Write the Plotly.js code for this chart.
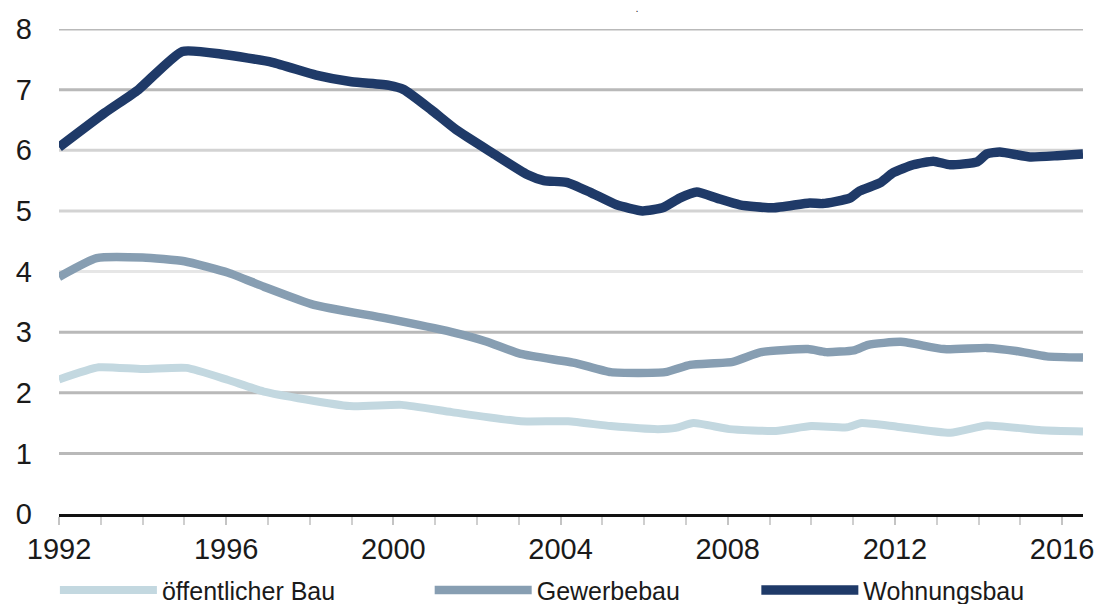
<!DOCTYPE html>
<html>
<head>
<meta charset="utf-8">
<script src="https://cdn.plot.ly/plotly-3.0.1.min.js"></script>
<style>html,body{margin:0;padding:0;background:#fff}#chart{width:1102px;height:604px}</style>
</head>
<body>
<div id="chart"></div>
<script>
// Wohnungsbau
const wohnX = [1992.0,1993.1,1993.9,1994.95,1995.95,1997.1,1998.15,1999.0,1999.9,2000.25,2000.9,2001.5,2002.36,2003.2,2003.6,2004.14,2004.7,2005.34,2005.96,2006.44,2006.85,2007.26,2007.74,2008.29,2009.08,2009.96,2010.27,2010.92,2011.16,2011.64,2011.96,2012.44,2012.92,2013.32,2013.97,2014.2,2014.51,2015.23,2015.88,2016.5];
const wohnY = [6.05,6.62,7.0,7.63,7.58,7.45,7.24,7.13,7.07,7.0,6.67,6.34,5.96,5.6,5.5,5.47,5.31,5.1,5.0,5.05,5.21,5.31,5.21,5.1,5.05,5.13,5.12,5.21,5.33,5.46,5.63,5.76,5.82,5.76,5.81,5.94,5.97,5.89,5.91,5.94];
// Gewerbebau
const gewX = [1992.0,1992.9,1994.0,1995.0,1996.05,1996.9,1998.1,1999.8,2001.4,2002.2,2003.05,2004.36,2005.2,2006.5,2007.1,2008.12,2008.8,2009.92,2010.35,2011.02,2011.36,2012.14,2013.17,2014.2,2014.9,2015.63,2016.5];
const gewY = [3.91,4.22,4.23,4.17,3.98,3.75,3.45,3.23,3.0,2.85,2.64,2.49,2.34,2.34,2.46,2.51,2.67,2.72,2.67,2.7,2.79,2.84,2.72,2.74,2.69,2.6,2.58];
// öffentlicher Bau
const oeffX = [1992.0,1992.95,1994.0,1995.05,1996.05,1996.9,1998.95,2000.2,2001.4,2003.05,2004.18,2005.2,2006.33,2006.76,2007.18,2008.04,2009.15,2010.0,2010.86,2011.2,2012.05,2013.33,2014.2,2015.5,2016.5];
const oeffY = [2.22,2.42,2.39,2.41,2.21,2.02,1.78,1.80,1.68,1.53,1.53,1.45,1.40,1.42,1.50,1.40,1.37,1.45,1.43,1.50,1.44,1.34,1.46,1.38,1.36];

const seriesNames = ['öffentlicher Bau','Gewerbebau','Wohnungsbau'];
const yTicks = [0,1,2,3,4,5,6,7,8];
const xTicks = [1992,1996,2000,2004,2008,2012,2016];
const gridColors = {1:'#b9b9b9',2:'#b9b9b9',3:'#b9b9b9',4:'#e6e6e6',5:'#d3d3d3',6:'#d3d3d3',7:'#b9b9b9',8:'#b9b9b9'};

const FONT = 'Liberation Sans, Arial, sans-serif';

const traces = [
  {x: oeffX, y: oeffY, name: seriesNames[0], mode:'lines', line:{color:'#c3d8e0', width:8, shape:'spline', smoothing:0.5}, legend:'legend'},
  {x: gewX, y: gewY, name: seriesNames[1], mode:'lines', line:{color:'#879eb2', width:8.5, shape:'spline', smoothing:0.5}, legend:'legend2'},
  {x: wohnX, y: wohnY, name: seriesNames[2], mode:'lines', line:{color:'#1f3a68', width:9.5, shape:'spline', smoothing:0.5}, legend:'legend3'}
];

const shapes = yTicks.filter(v => v > 0).map(v => ({
  type:'line', xref:'paper', x0:0, x1:1, yref:'y', y0:v, y1:v,
  line:{color:gridColors[v], width:3}, layer:'below'
}));

const legendBase = {
  orientation:'h', yref:'paper', y:-0.157, yanchor:'middle', xanchor:'left',
  font:{family:FONT, size:25, color:'#1a1a1a'}, itemwidth:97, bgcolor:'rgba(0,0,0,0)', borderwidth:0,
  itemclick:false, itemdoubleclick:false
};

const layout = {
  width:1102, height:604,
  margin:{l:59, r:19, t:29, b:90, autoexpand:false},
  paper_bgcolor:'#ffffff', plot_bgcolor:'#ffffff',
  title:{text:'.', x:637/1102, xanchor:'center', xref:'container', yref:'container', y:1-4/604, yanchor:'top', font:{family:FONT, size:11, color:'#333'}},
  showlegend:true,
  legend: Object.assign({}, legendBase, {x:-0.004}),
  legend2: Object.assign({}, legendBase, {x:0.362}),
  legend3: Object.assign({}, legendBase, {x:0.681}),
  xaxis:{
    range:[1992,2016.5], tickvals:xTicks, ticktext:xTicks.map(String),
    showgrid:false, zeroline:false, showline:true, linecolor:'#111', linewidth:2.5,
    ticks:'outside', ticklen:8, tickwidth:2, tickcolor:'#c4c4c4',
    minor:{dtick:1, tick0:1992, ticks:'outside', ticklen:8, tickwidth:2, tickcolor:'#cfcfcf', showgrid:false},
    tickfont:{family:FONT, size:29, color:'#1a1a1a'}, fixedrange:true
  },
  yaxis:{
    range:[0,8], tickvals:yTicks, ticktext:yTicks.map(String),
    showgrid:false, zeroline:false, showline:false, ticks:'', ticklabelstandoff:26,
    tickfont:{family:FONT, size:29, color:'#1a1a1a'}, fixedrange:true
  },
  shapes: shapes
};

Plotly.newPlot('chart', traces, layout, {displayModeBar:false, staticPlot:true});
</script>
</body>
</html>
